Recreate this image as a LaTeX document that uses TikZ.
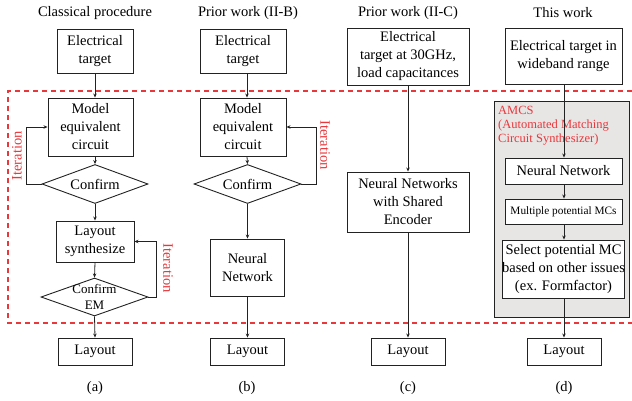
\documentclass[tikz,border=0pt]{standalone}
\usepackage{fontspec}
\setmainfont{Liberation Serif}
\usetikzlibrary{shapes.geometric,arrows.meta}
\definecolor{lnc}{HTML}{222222}
\definecolor{redd}{HTML}{E8383C}
\definecolor{grayfill}{HTML}{E8E5E5}
\begin{document}
\begin{tikzpicture}[x=1pt,y=-1pt,
  every node/.style={font=\fontsize{14.5}{18}\selectfont, text=black},
  box/.style={draw=lnc, line width=0.9pt, rectangle, align=center, inner sep=0pt},
  dia/.style={draw=lnc, line width=0.9pt, diamond, inner sep=0pt},
  conn/.style={draw=lnc, line width=0.8pt, -{Stealth[length=4pt,width=3.5pt]}},
  iter/.style={text=redd, font=\fontsize{14.5}{18}\selectfont},
  ttl/.style={font=\fontsize{14.5}{18}\selectfont},
  reddash/.style={draw=redd, line width=1.1pt, dash pattern=on 5pt off 4pt}
]
\useasboundingbox (0,0) rectangle (632,401);

% red dashed region
\draw[reddash] (632,91) -- (8,91) -- (8,323) -- (632,323);

% gray AMCS box
\fill[grayfill, draw=lnc, line width=0.9pt] (494,101) rectangle (629,317);

% titles
\node[ttl] (t1) at (95,13) {Classical procedure};
\node[ttl] (t2) at (248,13) {Prior work (II-B)};
\node[ttl] (t3) at (408,13) {Prior work (II-C)};
\node[ttl] (t4) at (563,13) {This work};

% captions
\node (ca1) at (95,388) {(a)};
\node (ca2) at (247,388) {(b)};
\node (ca3) at (408,388) {(c)};
\node (ca4) at (564,388) {(d)};

% column a
\node[box, minimum width=76pt, minimum height=44pt] (ea) at (95,51) {Electrical\\target};
\node[box, minimum width=85pt, minimum height=58pt] (ma) at (90.5,127) {Model\\equivalent\\circuit};
\node[dia, minimum width=106pt, minimum height=39pt, label={center:Confirm}] (cfa) at (95,184) {};
\node[box, minimum width=78pt, minimum height=41pt] (lsa) at (95,241.5) {Layout\\synthesize};
\node[dia, minimum width=107pt, minimum height=38pt,
  label={[align=center, font=\fontsize{13}{15.5}\selectfont]center:Confirm\\EM}] (cem) at (94.5,297) {};
\node[box, minimum width=74pt, minimum height=27pt] (la) at (95,351.5) {Layout};

\draw[conn] (ea.south) -- (ea.south |- ma.north);
\draw[conn] (ea.south |- ma.south) -- (cfa.north);
\draw[conn] (cfa.south) -- (lsa.north);
\draw[conn] (lsa.south) -- (cem.north);
\draw[conn] (cem.south) -- (la.north);
\draw[conn] (cfa.west) -- ++(-15,0) |- (ma.west);
\draw[conn] (cem.east) -- ++(8,0) |- (lsa.east);
\node[iter, rotate=90] (it1) at (17,156) {Iteration};
\node[iter, rotate=-90] (it2) at (168,268) {Iteration};

% column b
\node[box, minimum width=86pt, minimum height=44pt] (eb) at (243,51) {Electrical\\target};
\node[box, minimum width=86pt, minimum height=58pt] (mb) at (243,127) {Model\\equivalent\\circuit};
\node[dia, minimum width=107pt, minimum height=39pt, label={center:Confirm}] (cfb) at (247.5,184) {};
\node[box, minimum width=74pt, minimum height=57pt] (nb) at (247.5,267.5) {Neural\\Network};
\node[box, minimum width=74pt, minimum height=27pt] (lb) at (247.5,351.5) {Layout};

\coordinate (xb) at (247,0);
\draw[conn] (xb |- eb.south) -- (xb |- mb.north);
\draw[conn] (xb |- mb.south) -- (cfb.north);
\draw[conn] (cfb.south) -- (nb.north);
\draw[conn] (nb.south) -- (lb.north);
\draw[conn] (cfb.east) -- ++(15,0) |- (mb.east);
\node[iter, rotate=-90] (it3) at (325,145) {Iteration};

% column c
\node[box, minimum width=122pt, minimum height=57pt] (ec) at (408,56.5) {Electrical\\target at 30GHz,\\load capacitances};
\node[box, minimum width=122pt, minimum height=60pt] (nc) at (408,202) {Neural Networks\\with Shared\\Encoder};
\node[box, minimum width=74pt, minimum height=27pt] (lc) at (408,351.5) {Layout};
\draw[conn] (ec.south) -- (nc.north);
\draw[conn] (nc.south) -- (lc.north);

% column d
\node[box, minimum width=117pt, minimum height=56pt] (ed) at (563.5,56) {Electrical target in\\wideband range};
\node[text=redd, align=left, anchor=north west, inner sep=0pt,
  font=\fontsize{12.5}{14}\selectfont] (amcs) at (498,106) {AMCS\\(Automated Matching\\Circuit Synthesizer)};
\node[box, fill=white, minimum width=117pt, minimum height=26pt] (nd) at (563.5,171) {Neural Network};
\node[box, fill=white, minimum width=117pt, minimum height=25pt, font=\fontsize{11.3}{13}\selectfont] (md) at (563.5,211.5) {Multiple potential MCs};
\node[box, fill=white, minimum width=117pt, minimum height=58pt] (sd) at (563.5,269) {Select potential MC\\based on other issues\\(ex. Formfactor)};
\node[box, minimum width=74pt, minimum height=27pt] (ld) at (564,351.5) {Layout};

\coordinate (xd) at (564,0);
\draw[conn] (xd |- ed.south) -- (xd |- nd.north);
\draw[conn] (xd |- nd.south) -- (xd |- md.north);
\draw[conn] (xd |- md.south) -- (xd |- sd.north);
\draw[conn] (xd |- sd.south) -- (xd |- ld.north);
\end{tikzpicture}
\end{document}
